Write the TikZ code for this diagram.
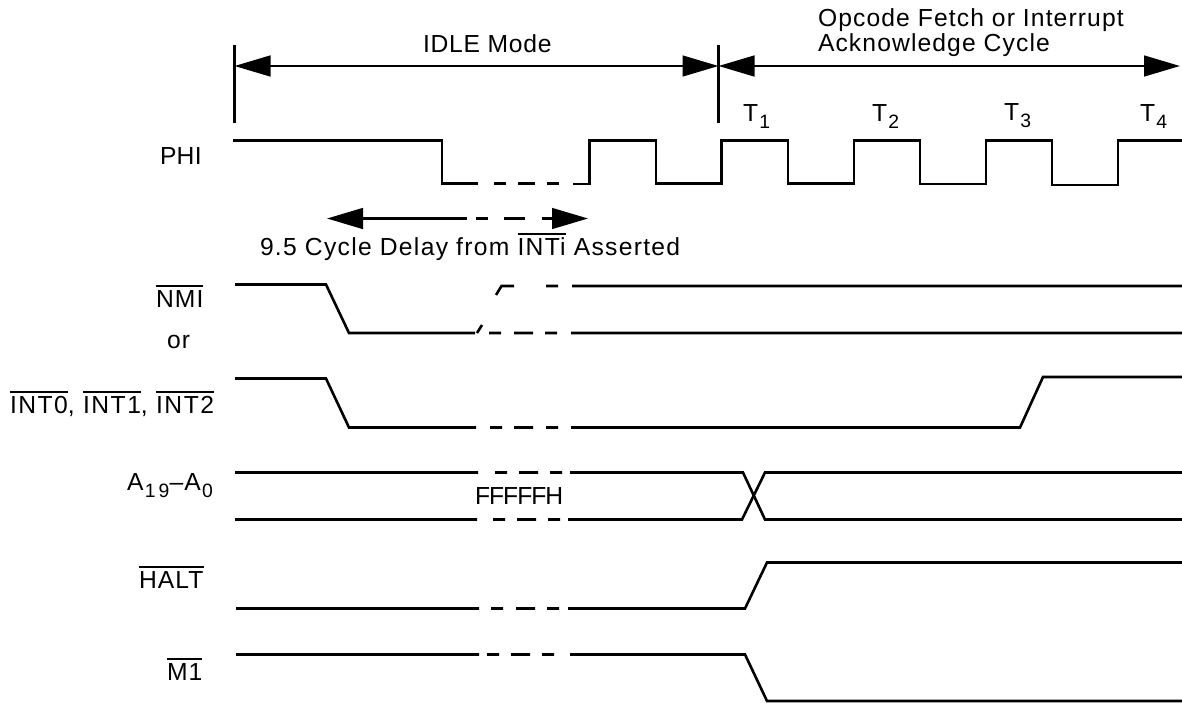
\documentclass[tikz,border=0pt]{standalone}
\usepackage{fontspec}
\setmainfont[LetterSpace=4.5]{Liberation Sans}
\usetikzlibrary{arrows.meta}
\newsavebox{\ovlbox}
\newcommand{\ovl}[1]{\sbox{\ovlbox}{#1}\rlap{\rule[15.2pt]{\wd\ovlbox}{1.3pt}}\usebox{\ovlbox}}
\newcommand{\subs}[1]{\kern1pt\raisebox{-5.5pt}{\fontsize{14.5}{14.5}\selectfont #1}}
\begin{document}
\begin{tikzpicture}[x=0.75pt, y=-0.75pt,
    wave/.style={line width=1.95pt, line join=miter},
    tickLine/.style={line width=2.1pt},
    dimArrow/.style={line width=1.95pt, {Triangle[length=27pt, width=15.5pt]}-{Triangle[length=27pt, width=15.5pt]}},
    oneArrow/.style={line width=1.95pt, -{Triangle[length=27pt, width=15.5pt]}},
    txt/.style={anchor=base west, inner sep=0pt, outer sep=0pt, font=\fontsize{18.5}{18.5}\selectfont},
    spaced/.style={txt, font=\fontsize{18.5}{18.5}\selectfont\addfontfeature{LetterSpace=#1}}]
    \useasboundingbox (0, 0) rectangle (1182, 704);

    % mode arrows
    \coordinate (idleL) at (234.5, 66);
    \coordinate (idleR) at (718.5, 66);
    \coordinate (fetchR) at (1180, 66);
    \draw[tickLine] (234.5, 45) -- (234.5, 123);
    \draw[tickLine] (718.5, 45) -- (718.5, 123);
    \draw[dimArrow] (idleL) -- (idleR);
    \draw[dimArrow] (idleR) -- (fetchR);
    \node[spaced=3](idle) at (423, 52.5) {IDLE Mode};
    \node[txt](fetchA) at (818, 26.5) {Opcode Fetch or Interrupt};
    \node[txt](fetchB) at (818, 51.5) {Acknowledge Cycle};

    % clock states
    \node[txt](t1) at (743, 121.5) {T\subs{1}};
    \node[txt](t2) at (872, 121.5) {T\subs{2}};
    \node[txt](t3) at (1004, 120.5) {T\subs{3}};
    \node[txt](t4) at (1140, 121.5) {T\subs{4}};

    % PHI
    \node[spaced=1](phi) at (160, 164) {PHI};
    \draw[wave] (233, 140.5) -- (442, 140.5) -- (442, 183.5) -- (478, 183.5)
        (494, 183.5) -- (506, 183.5) (518, 183.5) -- (535, 183.5) (547, 183.5) -- (559, 183.5)
        (573, 184) -- (589.5, 184) -- (589.5, 140.5) -- (656, 140.5) -- (656, 183.5) -- (721.5, 183.5)
        -- (721.5, 140.5) -- (788, 140.5) -- (788, 183.5) -- (854, 183.5) -- (854, 140.5) -- (920, 140.5)
        -- (920, 184) -- (986, 184) -- (986, 140.5) -- (1052, 140.5) -- (1052, 185) -- (1118, 185)
        -- (1118, 140.5) -- (1182, 140.5);

    % delay arrow
    \coordinate (delayL) at (327, 218.5);
    \coordinate (delayM) at (467, 218.5);
    \coordinate (delayN) at (542, 218.5);
    \coordinate (delayR) at (588, 218.5);
    \draw[oneArrow] (delayM) -- (delayL);
    \draw[oneArrow] (delayN) -- (delayR);
    \draw[wave] (476, 218.5) -- (488, 218.5) (504, 218.5) -- (525, 218.5);
    \node[spaced=5.2](delay) at (260, 255) {9.5 Cycle Delay from \ovl{INTi} Asserted};

    % NMI
    \node[txt](nmi) at (156, 307) {\ovl{NMI}};
    \node[txt](orText) at (167, 348) {or};
    \draw[wave] (235, 284.5) -- (326, 284.5) -- (349, 333) -- (475, 333)
        (477, 333) -- (482, 325) (489, 333) -- (501, 333) (514, 333) -- (533, 333)
        (545, 333) -- (557, 333) (571, 333) -- (1182, 333);
    \draw[wave] (496, 295) -- (501.5, 286) -- (514, 286) (546, 286) -- (558, 286) (572, 286) -- (1182, 286);

    % INT
    \node[spaced=6](ints) at (10, 413) {\ovl{INT0}, \ovl{INT1}, \ovl{INT2}};
    \draw[wave] (235, 378.5) -- (326, 378.5) -- (349, 427.5) -- (476, 427.5)
        (490, 427.5) -- (502, 427.5) (514, 427.5) -- (533, 427.5) (546, 427.5) -- (558, 427.5)
        (571, 427.5) -- (1020, 427.5) -- (1043, 377) -- (1182, 377);

    % address
    \node[txt](addr) at (127, 490) {A\subs{1\,9}--A\subs{0}};
    \node[spaced=-4](addrVal) at (475, 504.5) {FFFFFH};
    \draw[wave] (235, 472.5) -- (478, 472.5) (495, 472.5) -- (507, 472.5) (519, 472.5) -- (538, 472.5)
        (550, 472.5) -- (562, 472.5) (570, 472.5) -- (743, 472.5) -- (765, 519.5) -- (1182, 519.5);
    \draw[wave] (235, 519.5) -- (477, 519.5) (493, 519.5) -- (505, 519.5) (517, 519.5) -- (536, 519.5)
        (548, 519.5) -- (560, 519.5) (568, 519.5) -- (742, 519.5) -- (765, 472.5) -- (1182, 472.5);

    % HALT
    \node[txt](halt) at (139, 588) {\ovl{HALT}};
    \draw[wave] (236, 608.5) -- (479, 608.5) (491, 608.5) -- (503, 608.5) (516, 608.5) -- (535, 608.5)
        (547, 608.5) -- (559, 608.5) (568, 608.5) -- (745, 608.5) -- (767, 562.5) -- (1182, 562.5);

    % M1
    \node[txt](mone) at (167, 680) {\ovl{M1}};
    \draw[wave] (236, 654.5) -- (479, 654.5) (487, 654.5) -- (499, 654.5) (511, 654.5) -- (530, 654.5)
        (542, 654.5) -- (554, 654.5) (570, 654.5) -- (745, 654.5) -- (767, 701) -- (1182, 701);
\end{tikzpicture}
\end{document}
